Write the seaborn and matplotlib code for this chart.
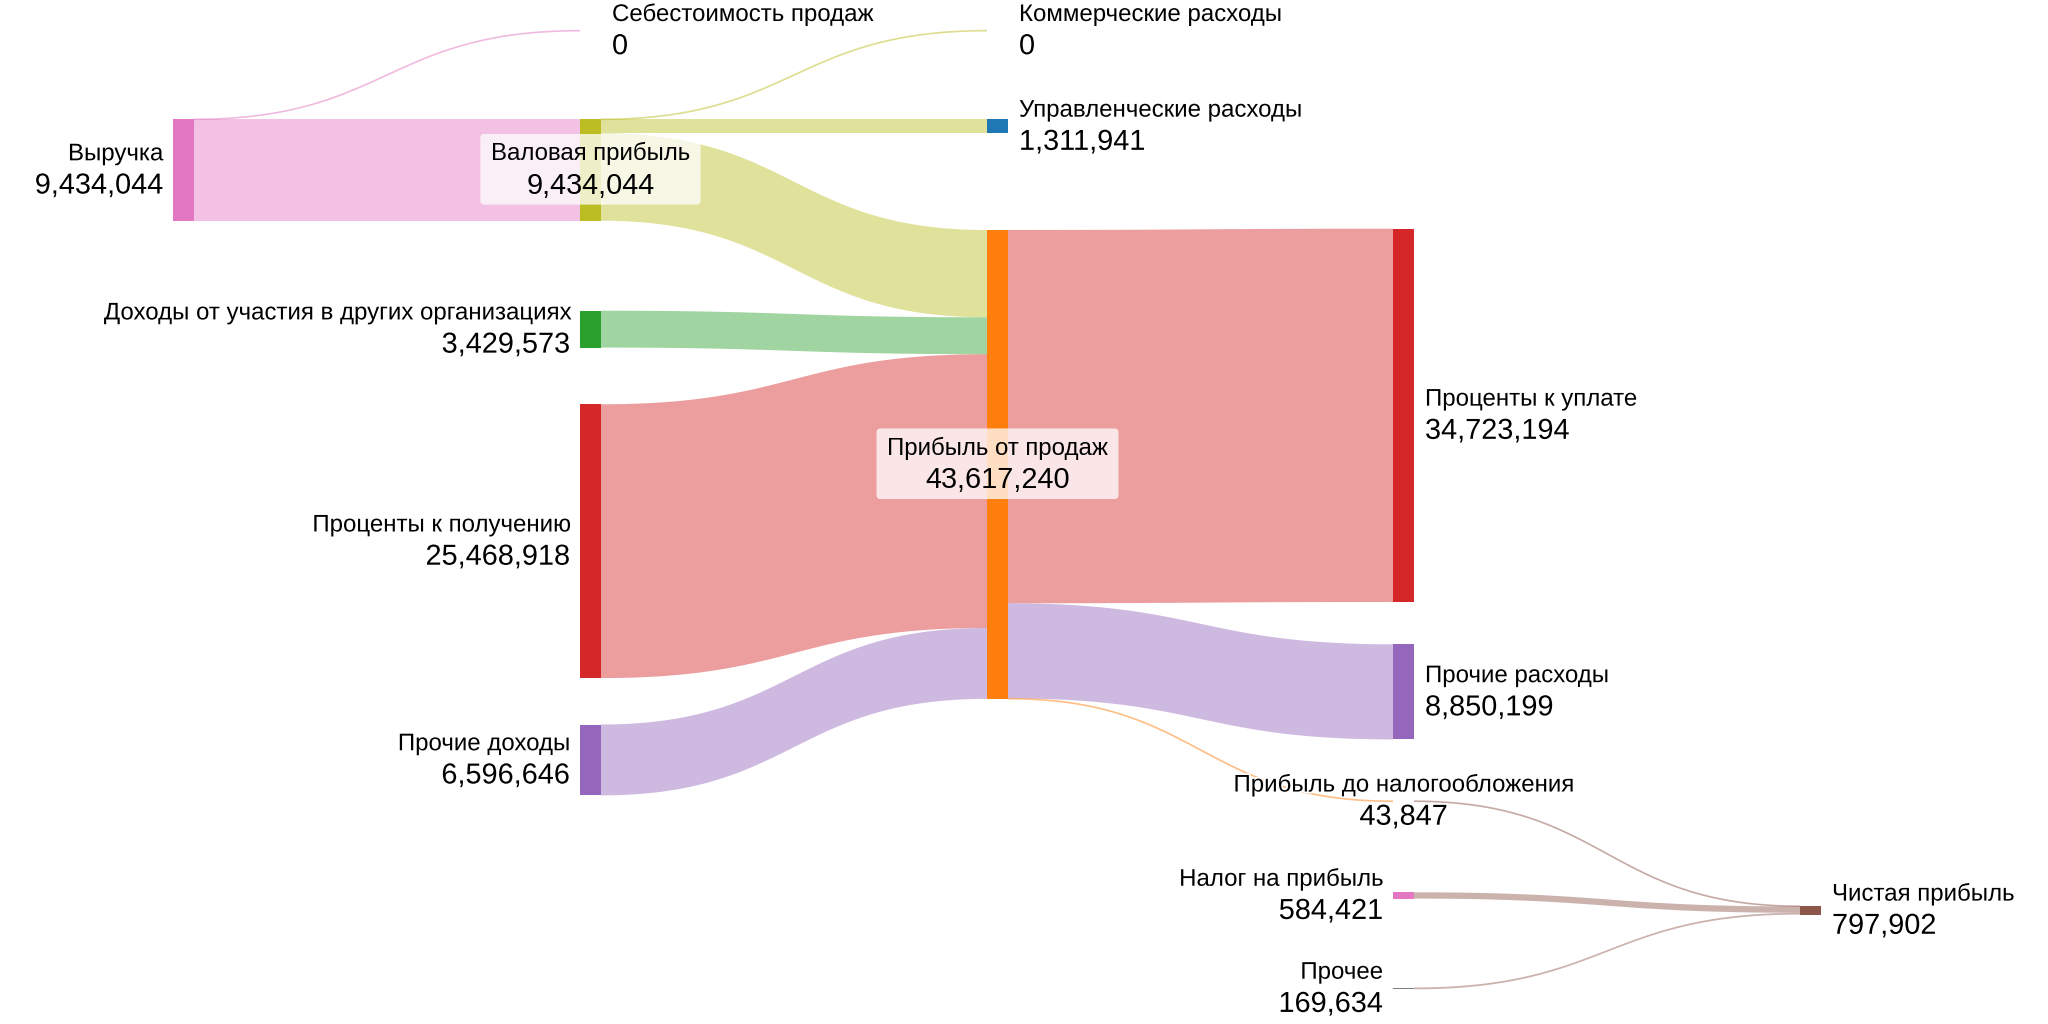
import matplotlib
matplotlib.use("Agg")
import matplotlib.pyplot as plt
import seaborn as sns
import numpy as np
from matplotlib.patches import FancyBboxPatch, Rectangle, Polygon
import matplotlib.patheffects as pe

sns.set_theme(style="white")
plt.rcParams["font.family"] = ["Liberation Sans", "DejaVu Sans"]

# ---------------- data ----------------
node_names = [
    "Выручка", "Себестоимость продаж", "Валовая прибыль", "Коммерческие расходы",
    "Управленческие расходы", "Прибыль от продаж",
    "Доходы от участия в других организациях", "Проценты к получению", "Прочие доходы",
    "Проценты к уплате", "Прочие расходы", "Прибыль до налогообложения",
    "Налог на прибыль", "Прочее", "Чистая прибыль",
]
node_values = [
    9434044, 0, 9434044, 0, 1311941, 43617240,
    3429573, 25468918, 6596646,
    34723194, 8850199, 43847,
    584421, 169634, 797902,
]
link_sources = [0, 0, 2, 2, 2, 6, 7, 8, 5, 5, 5, 11, 12, 13]
link_targets = [1, 2, 3, 4, 5, 5, 5, 5, 9, 10, 11, 14, 14, 14]
link_values = [0, 9434044, 0, 1311941, 8122103, 3429573, 25468918, 6596646,
               34723194, 8850199, 43847, 43847, 584421, 169634]

# ---------------- layout / style ----------------
pal = sns.color_palette("tab10")
C = {"blue": pal[0], "orange": pal[1], "green": pal[2], "red": pal[3], "purple": pal[4],
     "brown": pal[5], "pink": pal[6], "gray": pal[7], "olive": pal[8]}
node_color = ["pink", "pink", "olive", "olive", "blue", "orange", "green", "red", "purple",
              "red", "purple", "orange", "pink", "gray", "brown"]
link_color = ["pink", "pink", "olive", "olive", "olive", "green", "red", "purple",
              "red", "purple", "orange", "brown", "brown", "brown"]
node_col = [0, 1, 1, 2, 2, 2, 1, 1, 1, 3, 3, 3, 3, 3, 4]
node_top = [119.3, 30.7, 119.3, 30.7, 119.3, 230.0, 310.7, 404.3, 724.5,
            228.7, 644.3, 801.0, 892.3, 987.5, 906.0]
label_side = ["left", "right", "box", "right", "right", "box", "left", "left", "left",
              "right", "right", "center", "left", "left", "right"]
col_x = [173, 580, 987, 1393, 1800]
node_w = 21
scale = 1.075e-5  # px per unit

W, H = 2048, 1024
fig = plt.figure(figsize=(W / 100, H / 100), dpi=100)
ax = fig.add_axes([0, 0, 1, 1])
ax.set_xlim(0, W)
ax.set_ylim(H, 0)
ax.axis("off")

n = len(node_names)
nx = [col_x[c] for c in node_col]
nh = [v * scale for v in node_values]

# links
out_off = list(node_top)
in_off = list(node_top)
t = np.linspace(0, 1, 100)


def bez(x0, y0, x1, y1):
    xm = (x0 + x1) / 2
    bx = (1 - t) ** 3 * x0 + 3 * (1 - t) ** 2 * t * xm + 3 * (1 - t) * t ** 2 * xm + t ** 3 * x1
    by = (1 - t) ** 3 * y0 + 3 * (1 - t) ** 2 * t * y0 + 3 * (1 - t) * t ** 2 * y1 + t ** 3 * y1
    return bx, by


for s, tg, v, lc in zip(link_sources, link_targets, link_values, link_color):
    h = v * scale
    x0 = nx[s] + node_w
    x1 = nx[tg]
    y0 = out_off[s]
    y1 = in_off[tg]
    out_off[s] += h
    in_off[tg] += h
    col = C[lc]
    if h < 1.6:
        bx, by = bez(x0, y0 + h / 2, x1, y1 + h / 2)
        ax.plot(bx, by, color=col, alpha=0.5, lw=1.2, zorder=1, solid_capstyle="butt")
    else:
        tx, ty = bez(x0, y0, x1, y1)
        bx2, by2 = bez(x0, y0 + h, x1, y1 + h)
        pts = np.column_stack([np.concatenate([tx, bx2[::-1]]), np.concatenate([ty, by2[::-1]])])
        ax.add_patch(Polygon(pts, closed=True, facecolor=col, alpha=0.45, edgecolor="none", zorder=1))

# nodes
for i in range(n):
    if nh[i] > 0:
        ax.add_patch(Rectangle((nx[i], node_top[i]), node_w, nh[i],
                               facecolor=C[node_color[i]], edgecolor="none", zorder=2))

# labels
name_fs = 17.3
val_fs = 20.8
halo = [pe.withStroke(linewidth=2.5, foreground="white")]
box_items = []
for i in range(n):
    c = node_top[i] + nh[i] / 2
    side = label_side[i]
    if side == "left":
        x, ha = nx[i] - 10, "right"
    elif side == "right":
        x, ha = nx[i] + node_w + 11, "left"
    else:
        x, ha = nx[i] + node_w / 2, "center"
    pe_use = None if side == "box" else halo
    t1 = ax.text(x, c - 9.7, node_names[i], ha=ha, va="baseline", fontsize=name_fs,
                 color="black", zorder=4, path_effects=pe_use)
    t2 = ax.text(x, c + 23.5, f"{node_values[i]:,}", ha=ha, va="baseline", fontsize=val_fs,
                 color="black", zorder=4, path_effects=pe_use)
    if side == "box":
        box_items.append((t1, t2, c))

fig.canvas.draw()
r = fig.canvas.get_renderer()
inv = ax.transData.inverted()
for t1, t2, c in box_items:
    e1 = t1.get_window_extent(r)
    e2 = t2.get_window_extent(r)
    xa = min(e1.x0, e2.x0)
    xb = max(e1.x1, e2.x1)
    dx0 = inv.transform((xa, 0))[0] - 10.5
    dx1 = inv.transform((xb, 0))[0] + 10.5
    y0 = c - 36
    y1 = c + 34.6
    ax.add_patch(FancyBboxPatch((dx0 + 4, y0 + 4), dx1 - dx0 - 8, y1 - y0 - 8,
                                boxstyle="round,pad=4", facecolor="white", alpha=0.75,
                                edgecolor="none", zorder=3))

fig.savefig("out.png", dpi=100)
